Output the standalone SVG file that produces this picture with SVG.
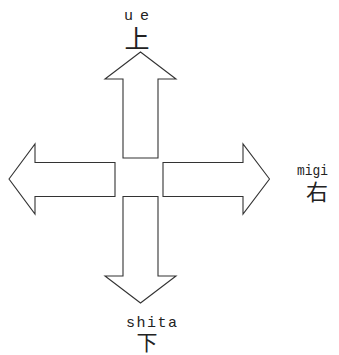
<svg xmlns="http://www.w3.org/2000/svg" width="339" height="355" viewBox="0 0 339 355">
<style>
.arrow{fill:#fff;stroke:#333;stroke-width:1.1;stroke-linejoin:miter}
.ruby{font-family:"Liberation Mono","Noto Sans CJK SC",monospace;font-size:15px;fill:#222}
.kanji{font-family:"Noto Sans CJK JP","Noto Sans CJK SC",sans-serif;fill:#222;text-anchor:middle}
</style>
<rect width="339" height="355" fill="#fff"/>
<g id="arrow-up">
<polygon class="arrow" points="140.5,52 176,79 158,79 158,158 123,158 123,79 105,79"/>
</g>
<g id="arrow-down">
<polygon class="arrow" points="140.5,303 176,276 158,276 158,196.5 123,196.5 123,276 105,276"/>
</g>
<g id="arrow-left">
<polygon class="arrow" points="9,179 35,144 35,162.5 115,162.5 115,196.5 35,196.5 35,214"/>
</g>
<g id="arrow-right">
<polygon class="arrow" points="269.5,179 243,144 243,162.5 163,162.5 163,196.5 243,196.5 243,214"/>
</g>
<g id="label-ue">
<text class="ruby" x="124" y="20" textLength="25" lengthAdjust="spacing">ue</text>
<text class="kanji" x="137" y="48" font-size="25">上</text>
</g>
<g id="label-migi">
<text class="ruby" x="297" y="175" textLength="31" lengthAdjust="spacingAndGlyphs">migi</text>
<text class="kanji" x="317" y="200" font-size="22">右</text>
</g>
<g id="label-shita">
<text class="ruby" x="126" y="327" textLength="51" lengthAdjust="spacing">shita</text>
<text class="kanji" x="147" y="350" font-size="21">下</text>
</g>
</svg>
